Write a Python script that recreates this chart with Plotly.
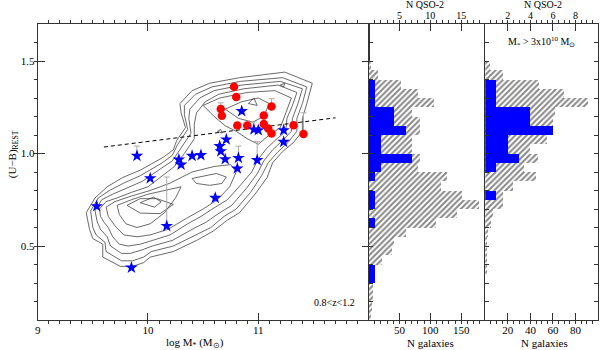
import plotly.graph_objects as go

# ---- main panel: galaxy density contours (log M*, U-B), None splits islands ----
contour_x = [
    [9.44, 9.52, 9.63, 9.77, 9.93, 10.14, 10.23, 10.26, 10.34, 10.30, 10.29, 10.40, 10.56, 10.83, 11.24, 11.49,
     11.44, 11.40, 11.40, 11.32, 11.22, 11.13, 11.08, 10.97, 10.83, 10.72, 10.59, 10.44, 10.23, 10.02, 9.96, 9.86,
     9.75, 9.59, 9.59, 9.50, 9.47, 9.44],
    [9.48, 9.55, 9.65, 9.78, 9.93, 10.13, 10.22, 10.27, 10.36, 10.33, 10.33, 10.43, 10.58, 10.84, 11.22, 11.44,
     11.40, 11.35, 11.35, 11.27, 11.18, 11.09, 11.03, 10.93, 10.80, 10.69, 10.57, 10.43, 10.23, 10.03, 9.96, 9.86,
     9.76, 9.62, 9.61, 9.53, 9.50, 9.48],
    [9.52, 9.58, 9.68, 9.80, 9.95, 10.12, 10.22, 10.30, 10.39, 10.37, 10.38, 10.47, 10.60, 10.85, 11.20, 11.40,
     11.36, 11.31, 11.30, 11.22, 11.13, 11.05, 10.99, 10.89, 10.76, 10.65, 10.53, 10.40, 10.22, 10.04, 9.95, 9.84,
     9.76, 9.66, 9.63, 9.57, 9.54, 9.52],
    [9.56, 9.62, 9.72, 9.85, 10.00, 10.13, 10.24, 10.33, 10.42, 10.42, 10.44, 10.52, 10.64, 10.87, 11.18, 11.35,
     11.31, 11.26, 11.25, 11.17, 11.08, 11.00, 10.94, 10.84, 10.72, 10.61, 10.48, 10.36, 10.20, 10.04, 9.93, 9.82,
     9.74, 9.68, 9.64, 9.60, 9.57, 9.56],
    [9.62, 9.70, 9.85, 10.02, 10.20, 10.40, 10.60, 10.75, 10.80, 10.74, 10.63, 10.50, 10.35, 10.18, 10.02, 9.90,
     9.78, 9.70, 9.64, 9.62, None,
     10.50, 10.65, 10.90, 11.15, 11.30, 11.25, 11.20, 11.10, 11.00, 10.90, 10.80, 10.70, 10.60, 10.50],
    [9.72, 9.85, 10.00, 10.15, 10.30, 10.25, 10.15, 10.02, 9.90, 9.80, 9.74, 9.72, None,
     10.70, 10.85, 11.00, 11.10, 11.05, 10.95, 10.82, 10.70, None,
     10.40, 10.62, 10.71, 10.67, 10.56, 10.44, 10.40],
    [9.81, 9.93, 10.08, 10.23, 10.11, 9.93, 9.81, None,
     10.91, 10.96, 10.99, 10.91, None,
     10.63, 10.66, 10.67, 10.63],
    [9.93, 10.05, 10.12, 10.06, 9.93, None,
     11.20, 11.24, 11.23, 11.20],
]
contour_y = [
    [0.68, 0.76, 0.82, 0.87, 0.91, 0.98, 1.02, 1.07, 1.14, 1.22, 1.27, 1.34, 1.38, 1.41, 1.44, 1.38,
     1.27, 1.19, 1.12, 1.06, 1.01, 0.95, 0.87, 0.78, 0.68, 0.64, 0.58, 0.53, 0.47, 0.44, 0.41, 0.39,
     0.39, 0.44, 0.51, 0.54, 0.59, 0.68],
    [0.69, 0.76, 0.80, 0.84, 0.88, 0.95, 0.99, 1.05, 1.13, 1.21, 1.26, 1.32, 1.36, 1.39, 1.41, 1.36,
     1.27, 1.19, 1.12, 1.06, 1.01, 0.95, 0.88, 0.79, 0.70, 0.66, 0.60, 0.56, 0.50, 0.47, 0.44, 0.42,
     0.42, 0.47, 0.52, 0.56, 0.60, 0.69],
    [0.69, 0.75, 0.78, 0.81, 0.85, 0.92, 0.96, 1.03, 1.11, 1.19, 1.24, 1.30, 1.34, 1.37, 1.39, 1.35,
     1.27, 1.19, 1.12, 1.07, 1.02, 0.96, 0.89, 0.81, 0.72, 0.68, 0.63, 0.59, 0.53, 0.50, 0.48, 0.46,
     0.46, 0.50, 0.55, 0.59, 0.63, 0.69],
    [0.70, 0.74, 0.76, 0.79, 0.82, 0.88, 0.93, 1.00, 1.08, 1.16, 1.22, 1.28, 1.32, 1.35, 1.37, 1.33,
     1.26, 1.19, 1.12, 1.08, 1.03, 0.97, 0.90, 0.83, 0.75, 0.71, 0.66, 0.62, 0.56, 0.53, 0.51, 0.50,
     0.51, 0.55, 0.60, 0.63, 0.66, 0.70],
    [0.71, 0.74, 0.77, 0.80, 0.84, 0.90, 0.93, 0.94, 0.90, 0.82, 0.75, 0.70, 0.65, 0.59, 0.56, 0.55,
     0.56, 0.61, 0.66, 0.71, None,
     1.26, 1.30, 1.33, 1.34, 1.30, 1.22, 1.14, 1.10, 1.05, 1.08, 1.12, 1.15, 1.20, 1.26],
    [0.72, 0.75, 0.78, 0.80, 0.82, 0.76, 0.68, 0.62, 0.60, 0.62, 0.67, 0.72, None,
     1.24, 1.28, 1.30, 1.27, 1.20, 1.17, 1.19, 1.24, None,
     0.865, 0.892, 0.873, 0.838, 0.828, 0.838, 0.865],
    [0.72, 0.756, 0.756, 0.725, 0.675, 0.678, 0.72, None,
     1.27, 1.30, 1.26, 1.27, None,
     1.12, 1.13, 1.11, 1.12],
    [0.734, 0.764, 0.739, 0.71, 0.734, None,
     1.37, 1.38, 1.36, 1.37],
]

# fit line
fit_x = [9.6, 11.7]
fit_y = [1.035, 1.193]

# QSO-2 hosts: red circles and blue stars (upper error only)
red_x = [10.78, 10.80, 10.66, 10.67, 10.81, 10.90, 11.12, 11.05, 11.05, 11.09, 11.12, 11.32, 11.41]
red_y = [1.361, 1.306, 1.240, 1.204, 1.152, 1.152, 1.254, 1.206, 1.159, 1.135, 1.108, 1.153, 1.106]
red_err = [0, 0, 0.034, 0, 0, 0, 0.042, 0, 0, 0, 0, 0, 0.114]

star_x = [10.85, 10.96, 11.00, 11.23, 11.23, 10.71, 10.65, 10.66, 10.70, 10.82, 10.81, 10.99, 10.48,
          10.40, 10.28, 10.30, 9.90, 10.02, 9.535, 10.17, 10.61, 9.85]
star_y = [1.229, 1.130, 1.126, 1.126, 1.063, 1.076, 1.040, 1.012, 0.969, 0.976, 0.919, 0.964, 0.991,
          0.987, 0.967, 0.940, 0.987, 0.866, 0.715, 0.608, 0.760, 0.383]
star_err = [0, 0.041, 0, 0, 0, 0, 0, 0, 0, 0.064, 0, 0.10, 0,
            0, 0, 0, 0.053, 0, 0, 0.265, 0, 0]

# ---- histograms of U-B (bins of 0.05) ----
bin_centers = [1.475, 1.425, 1.375, 1.325, 1.275, 1.225, 1.175, 1.125, 1.075, 1.025, 0.975, 0.925, 0.875,
               0.825, 0.775, 0.725, 0.675, 0.625, 0.575, 0.525, 0.475, 0.425, 0.375, 0.325, 0.275, 0.225,
               0.175, 0.125]
gal_all = [2, 14, 52, 79, 106, 70, 82, 82, 70, 70, 82, 79, 127,
           116, 150, 178, 142, 108, 60, 40, 37, 21, 10, 10, 7, 7, 5, 3]
qso_all = [0, 0, 1, 1, 1, 4, 4, 6, 2, 2, 7, 2, 1,
           0, 1, 1, 0, 1, 0, 0, 0, 0, 1, 1, 0, 0, 0, 0]
gal_massive = [4, 16, 48, 70, 91, 62, 60, 60, 55, 40, 47, 35, 45,
               25, 16, 16, 7, 5, 3, 2, 2, 1, 1, 0, 0, 0, 0, 0]
qso_massive = [0, 0, 1, 1, 1, 4, 4, 6, 2, 2, 3, 1, 0,
               0, 1, 0, 0, 0, 0, 0, 0, 0, 0, 0, 0, 0, 0, 0]

FONT = 'Liberation Serif'
y_dom = [0.0857, 0.9314]

fig = go.Figure()

# contours
for cx, cy in zip(contour_x, contour_y):
    fig.add_trace(go.Scatter(x=cx, y=cy, mode='lines', line=dict(color='#444444', width=0.8),
                             hoverinfo='skip', showlegend=False))

# dashed fit
fig.add_trace(go.Scatter(x=fit_x, y=fit_y, mode='lines', line=dict(color='black', width=1, dash='4px,3px'),
                         showlegend=False))

# points
fig.add_trace(go.Scatter(x=red_x, y=red_y, mode='markers', showlegend=False,
                         marker=dict(symbol='circle', size=8.5, color='#ff0000'),
                         error_y=dict(type='data', symmetric=False, array=red_err,
                                      arrayminus=[0] * len(red_err), color='#aaaaaa', thickness=1, width=3)))
fig.add_trace(go.Scatter(x=star_x, y=star_y, mode='markers', showlegend=False,
                         marker=dict(symbol='star', size=9.5, color='#0000ff'),
                         error_y=dict(type='data', symmetric=False, array=star_err,
                                      arrayminus=[0] * len(star_err), color='#aaaaaa', thickness=1, width=3)))

# hatched galaxy histograms + solid QSO-2 histograms
hatch = dict(shape='/', fgcolor='#111111', bgcolor='white', size=4, solidity=0.5)
fig.add_trace(go.Bar(x=gal_all, y=bin_centers, orientation='h', width=0.05, xaxis='x2', yaxis='y2',
                     marker=dict(color='white', pattern=hatch, line=dict(width=0)), showlegend=False))
fig.add_trace(go.Bar(x=qso_all, y=bin_centers, orientation='h', width=0.05, xaxis='x4', yaxis='y2',
                     marker=dict(color='#0000ff', line=dict(width=0)), showlegend=False))
fig.add_trace(go.Bar(x=gal_massive, y=bin_centers, orientation='h', width=0.05, xaxis='x3', yaxis='y3',
                     marker=dict(color='white', pattern=hatch, line=dict(width=0)), showlegend=False))
fig.add_trace(go.Bar(x=qso_massive, y=bin_centers, orientation='h', width=0.05, xaxis='x5', yaxis='y3',
                     marker=dict(color='#0000ff', line=dict(width=0)), showlegend=False))

axis_style = dict(showline=True, linecolor='#333333', linewidth=1, ticks='inside', tickcolor='#333333',
                  ticklen=7, showgrid=False, zeroline=False, automargin=False,
                  tickfont=dict(family=FONT, size=11, color='black'))
top_font = dict(family=FONT, size=10, color='black')
minor_style = dict(ticklen=3, tickcolor='#333333')

fig.update_layout(
    width=600, height=350,
    margin=dict(l=0, r=0, t=0, b=0),
    plot_bgcolor='white', paper_bgcolor='white',
    barmode='overlay', bargap=0,
    font=dict(family=FONT, size=11, color='black'),
    xaxis=dict(axis_style, domain=[0.0628, 0.6143], range=[9, 12], tickvals=[9, 10, 11], mirror='ticks',
               minor=dict(minor_style, dtick=0.1)),
    yaxis=dict(axis_style, domain=y_dom, range=[0.1, 1.7], tickvals=[0.5, 1.0, 1.5],
               ticktext=['0.5', '1.0', '1.5'], mirror='ticks', minor=dict(minor_style, dtick=0.1)),
    xaxis2=dict(axis_style, domain=[0.6143, 0.8088], range=[0, 189], anchor='y2', tickvals=[50, 100, 150],
                minor=dict(minor_style, dtick=10)),
    xaxis4=dict(axis_style, overlaying='x2', side='top', anchor='y2', range=[0, 18.9], tickvals=[5, 10, 15],
                tickfont=top_font, minor=dict(minor_style, dtick=1)),
    yaxis2=dict(axis_style, domain=y_dom, range=[0.1, 1.7], anchor='x2', showticklabels=False,
                dtick=0.1, ticklen=4),
    xaxis3=dict(axis_style, domain=[0.8088, 0.9967], range=[0, 100], anchor='y3', tickvals=[20, 40, 60, 80],
                minor=dict(minor_style, dtick=5)),
    xaxis5=dict(axis_style, overlaying='x3', side='top', anchor='y3', range=[0, 10], tickvals=[2, 4, 6, 8],
                tickfont=top_font, minor=dict(minor_style, dtick=0.5)),
    yaxis3=dict(axis_style, domain=y_dom, range=[0.1, 1.7], anchor='x3', showticklabels=False,
                dtick=0.1, ticklen=4, mirror='ticks'),
)

# axis titles and panel labels as paper annotations
labels = [
    ('log M<sub>*</sub> (M<sub>⊙</sub>)', 0.325, 0.021, 0, 11),
    ('(U−B)<sub>REST</sub>', 0.022, 0.56, -90, 11),
    ('N galaxies', 0.717, 0.021, 0, 11),
    ('N galaxies', 0.908, 0.021, 0, 11),
    ('N QSO-2', 0.708, 0.988, 0, 10),
    ('N QSO-2', 0.905, 0.988, 0, 10),
]
for text, x, y, angle, size in labels:
    fig.add_annotation(text=text, xref='paper', yref='paper', x=x, y=y, showarrow=False, textangle=angle,
                       xanchor='center', yanchor='middle', font=dict(family=FONT, size=size))
fig.add_annotation(text='0.8<z<1.2', xref='paper', yref='paper', x=0.558, y=0.137, showarrow=False,
                   xanchor='center', yanchor='middle', font=dict(family=FONT, size=10))
fig.add_annotation(text='M<sub>*</sub> > 3x10<sup>10</sup> M<sub>⊙</sub>', xref='paper', yref='paper',
                   x=0.902, y=0.88, showarrow=False, xanchor='center', yanchor='middle',
                   font=dict(family=FONT, size=10))

# drop the default page margin so the figure sits at the window origin
fig.write_html("out.html", config={'displayModeBar': False},
               post_script="document.body.style.margin='0';")
